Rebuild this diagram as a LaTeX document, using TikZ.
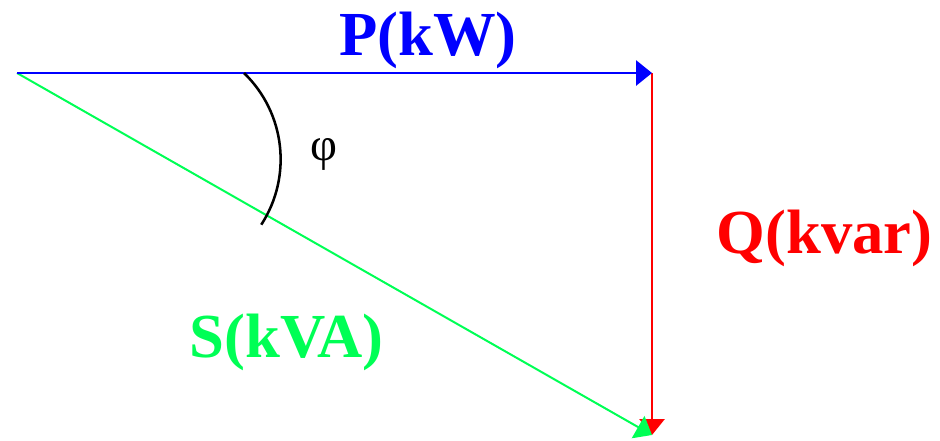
\documentclass[tikz,border=0pt]{standalone}
\usepackage{fontspec}
\setmainfont{Liberation Serif}
\usetikzlibrary{arrows.meta}
\definecolor{pblue}{RGB}{0,0,255}
\definecolor{qred}{RGB}{255,0,0}
\definecolor{sgreen}{RGB}{0,255,85}
\tikzset{
  vec/.style={line width=1.5pt,-{Triangle[length=12pt,width=19pt]}},
  lbl/.style={inner sep=0pt,font=\fontsize{47}{50}\selectfont\bfseries,anchor=base},
}
\begin{document}
\begin{tikzpicture}[x=0.75pt,y=-0.75pt]
\useasboundingbox (0,0) rectangle (940,440);
\coordinate (O) at (17,73);
\coordinate (A) at (652,73);
\coordinate (B) at (652,435);
\draw[vec,qred] (A) -- (B);
\draw[vec,sgreen] (O) -- (B);
\draw[vec,pblue] (O) -- (A);
\coordinate (arcstart) at (244,73);
\draw[line width=1.9pt,black] (arcstart) arc[start angle=-46,end angle=33,radius=120];
\node[lbl,text=pblue] (P) at (428,55) {P(kW)};
\node[lbl,text=qred] (Q) at (824.5,253) {Q(kvar)};
\node[lbl,text=sgreen] (S) at (286.5,357) {S(kVA)};
\node[inner sep=0pt,font=\fontsize{35}{37}\selectfont] (phi) at (323.5,154) {φ};
\end{tikzpicture}
\end{document}
